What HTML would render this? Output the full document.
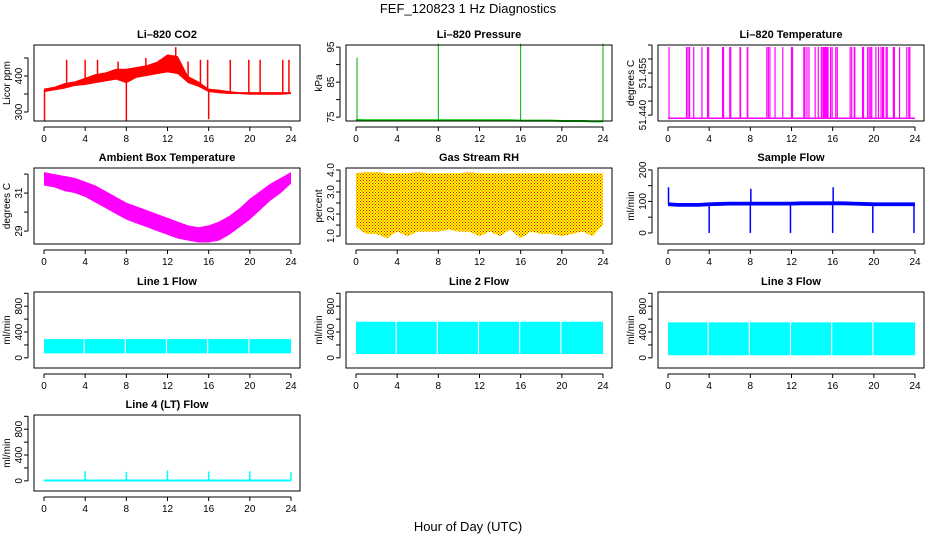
<!DOCTYPE html>
<html><head><meta charset="utf-8"><style>
body{margin:0;background:#fff}
svg{display:block;font-family:"Liberation Sans",sans-serif}
</style></head><body>
<svg id="c" width="936" height="540" viewBox="0 0 936 540">
<defs>
<pattern id="rhpat" width="3" height="3" patternUnits="userSpaceOnUse"><rect width="3" height="3" fill="#ffff00"/><rect x="0" y="0" width="1" height="1" fill="#ff0000"/><rect x="1.5" y="1.5" width="1" height="1" fill="#ff0000"/></pattern>
</defs>
<text x="468" y="13" text-anchor="middle" font-size="13">FEF_120823  1 Hz Diagnostics</text>
<text x="468" y="531" text-anchor="middle" font-size="13">Hour of Day (UTC)</text>
</svg>
<script>
// ---- data arrays ----
const xTicks=[0,4,8,12,16,20,24];
const hours=[0,1,2,3,4,5,6,7,8,9,10,11,12,13,14,15,16,17,18,19,20,21,22,23,24];
// CO2 band (ppm)
const co2Low=[355,360,365,372,375,380,385,390,380,395,400,405,410,405,380,370,355,352,350,350,348,348,348,348,350];
const co2High=[365,370,380,385,395,405,410,420,420,425,430,440,460,455,400,385,365,362,358,355,355,355,355,355,355];
const co2SpikeH=[0.05,2.2,4.0,5.2,7.2,8.0,9.9,11.2,12.8,14.0,15.2,15.9,16.0,18.1,19.9,21.0,23.2,23.8];
const co2SpikeV=[275,445,445,445,440,275,450,445,480,440,445,445,280,445,445,445,445,445];
// Pressure
const presBase=[74.2,74.1,74.1,74.1,74.1,74.1,74.1,74.1,74.1,74.1,74.1,74.1,74.1,74.1,74.1,74.1,74.0,74.0,74.0,74.0,73.9,73.9,73.9,73.8,73.8];
const presSpikeH=[0.1,8.0,16.0,24.0];
const presSpikeV=[92,96,96,96];
// Li-820 temperature
const tempBase=51.4389;
const tempSpikeV=51.4643;
const tempSpikeH=[0.1,1.8,1.95,2.1,2.5,3.3,3.85,3.95,5.3,5.4,6.0,6.1,7.0,7.05,7.7,7.75,9.6,9.75,9.9,10.4,11.15,12.0,12.1,13.2,13.3,13.5,13.7,14.3,14.6,14.9,15.05,15.15,15.25,15.35,15.45,15.55,15.8,15.95,16.3,16.45,17.7,17.85,18.1,18.15,18.9,19.0,19.4,19.55,19.7,19.8,20.2,20.45,20.7,20.85,20.95,21.2,21.3,21.9,22.0,22.5,23.2,23.4,23.5];
// Ambient box temperature
const ambLow=[31.4,31.3,31.1,31.0,30.8,30.5,30.2,29.9,29.6,29.4,29.2,29.0,28.8,28.6,28.5,28.4,28.4,28.5,28.8,29.2,29.6,30.1,30.6,31.0,31.5];
const ambHigh=[32.1,32.0,31.9,31.8,31.6,31.4,31.1,30.8,30.5,30.3,30.1,29.9,29.7,29.5,29.3,29.2,29.3,29.5,29.8,30.2,30.7,31.1,31.5,31.8,32.1];
// Gas stream RH
const rhLow=[1.4,1.1,1.1,0.9,1.2,1.0,1.2,1.2,1.2,1.3,1.2,1.2,1.0,1.2,1.0,1.3,0.9,1.2,1.1,1.1,1.0,1.1,1.2,1.0,1.5];
const rhHigh=[3.85,3.9,3.9,3.85,3.85,3.85,3.9,3.85,3.85,3.85,3.85,3.9,3.85,3.85,3.85,3.85,3.85,3.85,3.85,3.85,3.85,3.85,3.85,3.85,3.85];
// Sample flow
const sfBase=[92,90,90,90,92,93,94,94,94,94,94,94,94,95,95,95,95,95,94,93,92,92,92,92,92];
const sfSpikeH=[0.05,4.0,8.0,8.05,11.9,16.0,16.05,19.9,23.9];
const sfSpikeV=[145,0,0,140,0,0,145,0,0];
// Line flows (mL/min)
const flowGapH=[3.9,7.9,11.9,15.9,19.9];
const l1Low=70,l1High=290;
const l2Low=60,l2High=560;
const l3Low=40,l3High=550;
const l4Base=5;
const l4SpikeH=[4.0,8.0,12.0,16.0,20.0,24.0];
const l4SpikeV=[150,140,160,145,150,135];

const svg=document.getElementById('c');
const NS='http://www.w3.org/2000/svg';
function mk(tag,attrs,parent){const e=document.createElementNS(NS,tag);for(const k in attrs)e.setAttribute(k,attrs[k]);(parent||svg).appendChild(e);return e;}

const colL=[34,346,658], rowT=[45,168,292,415], W=266, H=76;
function panel(col,row,name,title,ylab,ymin,ymax,yt,ylabels){
  const g=mk('g',{});
  
  
  const L=colL[col],T=rowT[row],B=T+H;
  const X=h=>L+10+h*(247/24);
  const Y=v=>B-(v-ymin)/(ymax-ymin)*H;
  const t=mk('text',{x:L+W/2,y:T-7,'text-anchor':'middle','font-size':11,'font-weight':'bold'},g);t.textContent=title;
  
  const yl=mk('text',{transform:`translate(${L-24},${T+H/2}) rotate(-90)`,'text-anchor':'middle','font-size':10},g);yl.textContent=ylab;
  
  mk('line',{x1:X(0),x2:X(24),y1:B+6,y2:B+6,stroke:'#000'},g);
  xTicks.forEach(h=>{mk('line',{x1:X(h),x2:X(h),y1:B+6,y2:B+10,stroke:'#000'},g);
    const tx=mk('text',{x:X(h),y:B+21,'text-anchor':'middle','font-size':10},g);tx.textContent=h;
    });
  mk('line',{x1:L-6,x2:L-6,y1:Y(yt[0]),y2:Y(yt[yt.length-1]),stroke:'#000'},g);
  yt.forEach((v,i)=>{mk('line',{x1:L-10,x2:L-6,y1:Y(v),y2:Y(v),stroke:'#000'},g);
    if(ylabels[i]){const tx=mk('text',{transform:`translate(${L-12},${Y(v)}) rotate(-90)`,'text-anchor':'middle','font-size':10},g);tx.textContent=ylabels[i];
    }});
  const data=mk('g',{},g);
  mk('rect',{x:L,y:T,width:W,height:H,fill:'none',stroke:'#000'},g);
  return {X,Y,g:data};
}
function band(p,lo,hi,fill,name){
  let pts=hours.map((h,i)=>p.X(h)+','+p.Y(hi[i])).concat(hours.slice().reverse().map((h,j)=>{const i=hours.length-1-j;return p.X(h)+','+p.Y(lo[i]);}));
  const e=mk('polygon',{points:pts.join(' '),fill:fill},p.g);
  
}
function spikes(p,hs,vs,base,color,name,w){
  hs.forEach((h,i)=>{const b=typeof base==='function'?base(h):base;
    const e=mk('line',{x1:p.X(h),x2:p.X(h),y1:p.Y(b),y2:p.Y(vs[i]),stroke:color,'stroke-width':w||1.5},p.g);
    });
}
function interp(arr,h){const i=Math.min(23,Math.floor(h));const f=h-i;return arr[i]*(1-f)+arr[i+1]*f;}
function line(p,arr,color,name,w){
  const e=mk('polyline',{points:hours.map((h,i)=>p.X(h)+','+p.Y(arr[i])).join(' '),fill:'none',stroke:color,'stroke-width':w||2},p.g);
  
}

let p=panel(0,0,'co2','Li\u2013820 CO2','Licor ppm',275,486,[300,350,400,450],['300','','400','']);
band(p,co2Low,co2High,'#ff0000','co2-band');
spikes(p,co2SpikeH,co2SpikeV,h=>(interp(co2Low,h)+interp(co2High,h))/2,'#ff0000','co2-spike');

p=panel(1,0,'pressure','Li\u2013820 Pressure','kPa',73.9,95.6,[75,80,85,90,95],['75','','85','','95']);
line(p,presBase,'#00cc00','pressure-line',2);
spikes(p,presSpikeH,presSpikeV,h=>interp(presBase,h),'#00aa00','pressure-spike',1);

p=panel(2,0,'li820-temp','Li\u2013820 Temperature','degrees C',51.4379,51.4650,[51.440,51.445,51.450,51.455,51.460,51.465],['51.440','','','51.455','','']);
line(p,hours.map(()=>tempBase),'#ff00ff','temp-baseline',1.5);
spikes(p,tempSpikeH,tempSpikeH.map(()=>tempSpikeV),tempBase,'#ff00ff','temp-spike',1.2);

p=panel(0,1,'ambient','Ambient Box Temperature','degrees C',28.32,32.32,[29,30,31,32],['29','','31','']);
band(p,ambLow,ambHigh,'#ff00ff','ambient-band');

p=panel(1,1,'rh','Gas Stream RH','percent',0.64,4.09,[1,1.5,2,2.5,3,3.5,4],['1.0','','2.0','','3.0','','4.0']);
band(p,rhLow,rhHigh,'url(#rhpat)','rh-band');

p=panel(2,1,'sample-flow','Sample Flow','ml/min',-35,206,[0,50,100,150,200],['0','','100','','200']);
band(p,sfBase.map(v=>v-7),sfBase.map(v=>v+5),'#0000ff','sample-flow-band');
spikes(p,sfSpikeH,sfSpikeV,h=>interp(sfBase,h),'#0000ff','sample-flow-spike',1.5);

const fy=[0,200,400,600,800,1000], fl=['0','','400','','800',''];
function flowPanel(col,row,name,title,lo,hi){
  const q=panel(col,row,name,title,'ml/min',-157,1020,fy,fl);
  band(q,hours.map(()=>lo),hours.map(()=>hi),'#00ffff',name+'-band');
  flowGapH.forEach(h=>{const e=mk('rect',{x:q.X(h)-0.6,y:q.Y(hi)-1,width:1.2,height:q.Y(lo)-q.Y(hi)+2,fill:'#fff'},q.g);
    });
  return q;
}
flowPanel(0,2,'line1-flow','Line 1 Flow',l1Low,l1High);
flowPanel(1,2,'line2-flow','Line 2 Flow',l2Low,l2High);
flowPanel(2,2,'line3-flow','Line 3 Flow',l3Low,l3High);

p=panel(0,3,'line4-flow','Line 4 (LT) Flow','ml/min',-157,1020,fy,fl);
line(p,hours.map(()=>l4Base),'#00ffff','line4-baseline',2);
spikes(p,l4SpikeH,l4SpikeV,l4Base,'#00ffff','line4-spike',1.5);
</script>
</body></html>
